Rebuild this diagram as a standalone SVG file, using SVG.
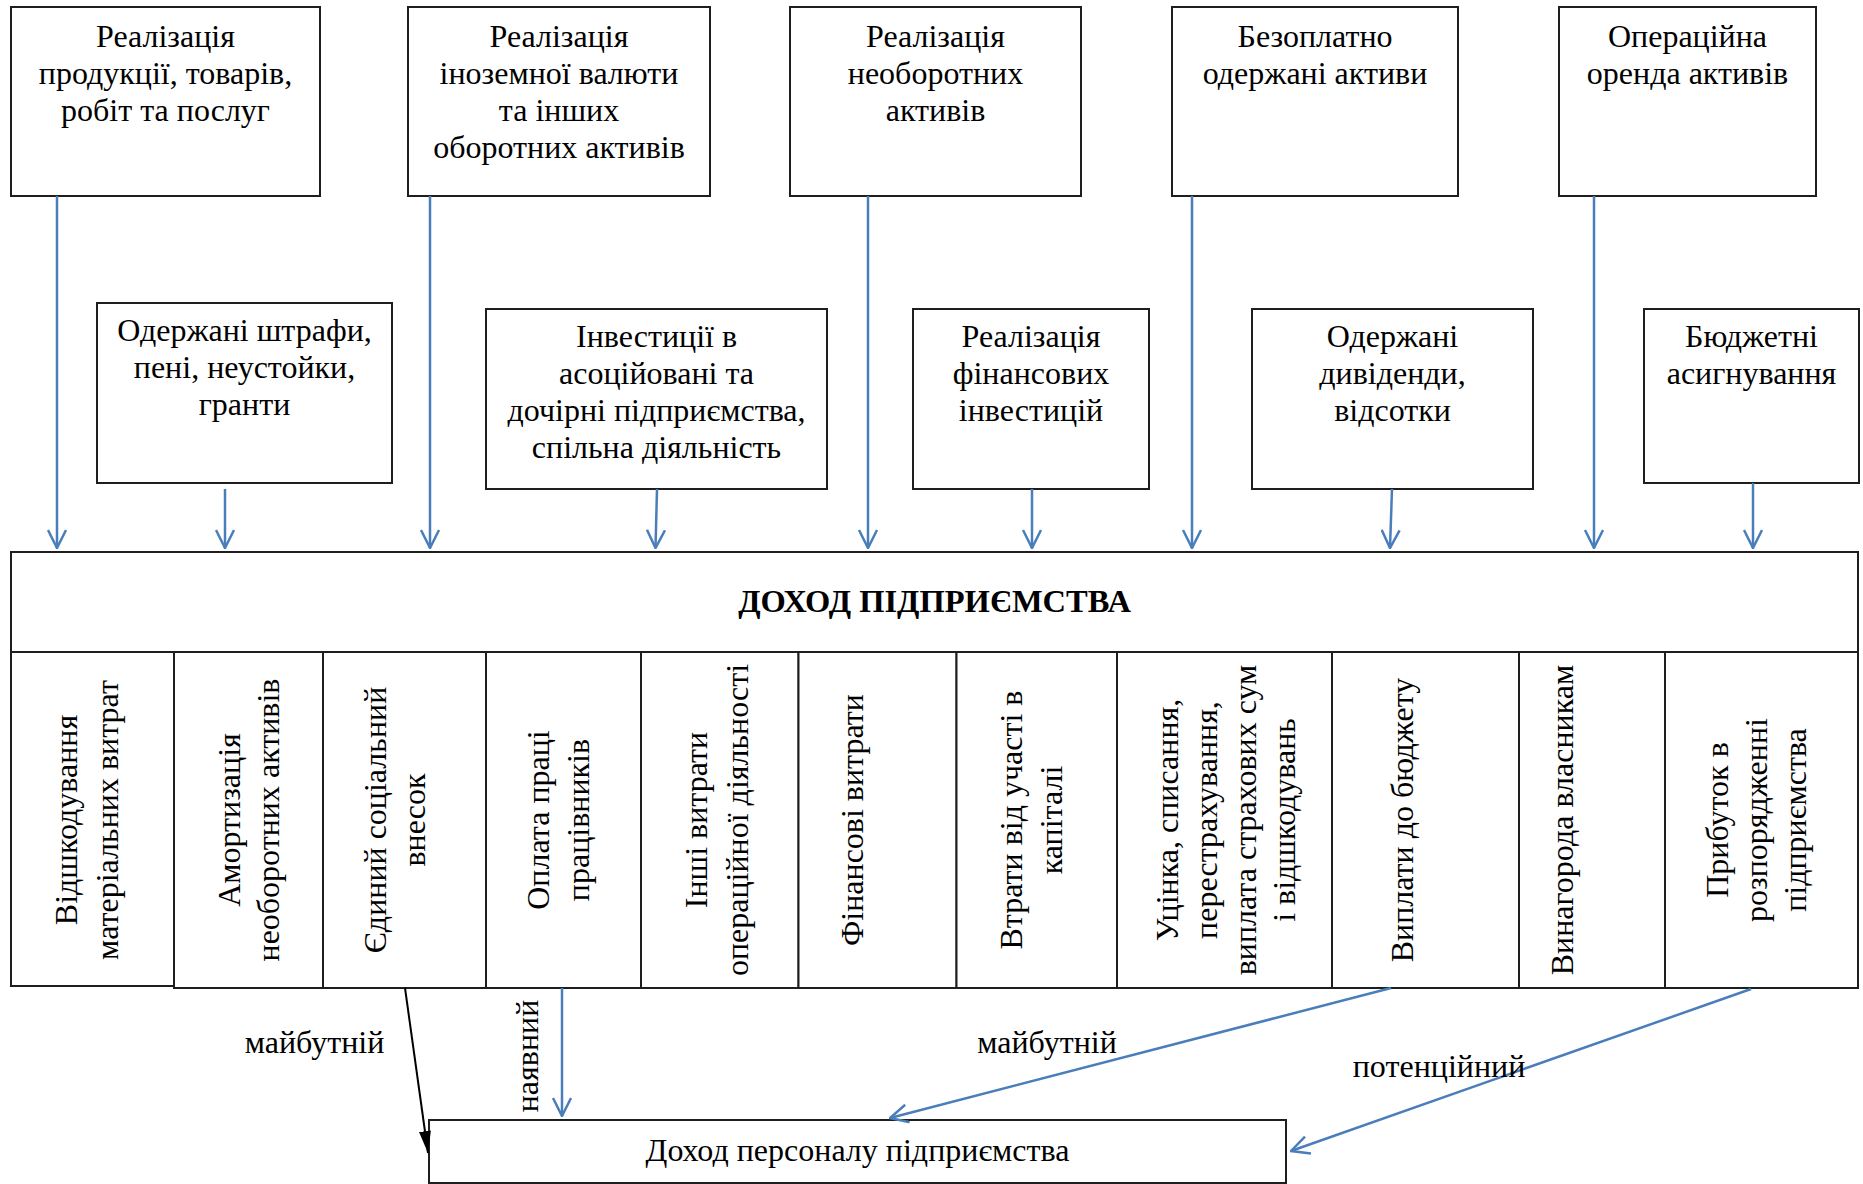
<svg xmlns="http://www.w3.org/2000/svg" width="1863" height="1184" viewBox="0 0 1863 1184">
<style>
.box{fill:#fff;stroke:#1e1e1e;stroke-width:2}
.t{font-family:"Liberation Serif","Times New Roman",serif;font-size:32px;fill:#000;text-anchor:middle}
.b{font-weight:bold;font-size:32.5px}
.lbl{font-family:"Liberation Serif","Times New Roman",serif;font-size:32px;fill:#000;text-anchor:middle}
.blue{stroke:#4A7EBB;stroke-width:2.5;fill:none;marker-end:url(#ab)}
.blk{stroke:#000;stroke-width:2;fill:none;marker-end:url(#ak)}
</style>
<defs>
<marker id="ab" viewBox="0 0 20 20" refX="19" refY="10" markerWidth="20" markerHeight="20" markerUnits="userSpaceOnUse" orient="auto"><path d="M1,1 L19,10 L1,19" fill="none" stroke="#4A7EBB" stroke-width="2.5"/></marker>
<marker id="ak" viewBox="0 0 22 12" refX="22" refY="6" markerWidth="22" markerHeight="12" markerUnits="userSpaceOnUse" orient="auto"><path d="M0,0 L22,6 L0,12 z" fill="#000"/></marker>
</defs>
<rect width="1863" height="1184" fill="#fff"/>

<g id="top1"><rect class="box" x="11" y="7" width="309" height="189"/><text class="t"><tspan x="165.5" y="47">Реалізація</tspan><tspan x="165.5" y="84">продукції, товарів,</tspan><tspan x="165.5" y="121">робіт та послуг</tspan></text></g>
<g id="top2"><rect class="box" x="408" y="7" width="302" height="189"/><text class="t"><tspan x="559" y="47">Реалізація</tspan><tspan x="559" y="84">іноземної валюти</tspan><tspan x="559" y="121">та інших</tspan><tspan x="559" y="158">оборотних активів</tspan></text></g>
<g id="top3"><rect class="box" x="790" y="7" width="291" height="189"/><text class="t"><tspan x="935.5" y="47">Реалізація</tspan><tspan x="935.5" y="84">необоротних</tspan><tspan x="935.5" y="121">активів</tspan></text></g>
<g id="top4"><rect class="box" x="1172" y="7" width="286" height="189"/><text class="t"><tspan x="1315" y="47">Безоплатно</tspan><tspan x="1315" y="84">одержані активи</tspan></text></g>
<g id="top5"><rect class="box" x="1559" y="7" width="257" height="189"/><text class="t"><tspan x="1687.5" y="47">Операційна</tspan><tspan x="1687.5" y="84">оренда активів</tspan></text></g>

<g id="mid1"><rect class="box" x="97" y="303" width="295" height="180"/><text class="t"><tspan x="244.5" y="341">Одержані штрафи,</tspan><tspan x="244.5" y="378">пені, неустойки,</tspan><tspan x="244.5" y="415">гранти</tspan></text></g>
<g id="mid2"><rect class="box" x="486" y="309" width="341" height="180"/><text class="t"><tspan x="656.5" y="347">Інвестиції в</tspan><tspan x="656.5" y="384">асоційовані та</tspan><tspan x="656.5" y="421">дочірні підприємства,</tspan><tspan x="656.5" y="458">спільна діяльність</tspan></text></g>
<g id="mid3"><rect class="box" x="913" y="309" width="236" height="180"/><text class="t"><tspan x="1031" y="347">Реалізація</tspan><tspan x="1031" y="384">фінансових</tspan><tspan x="1031" y="421">інвестицій</tspan></text></g>
<g id="mid4"><rect class="box" x="1252" y="309" width="281" height="180"/><text class="t"><tspan x="1392.5" y="347">Одержані</tspan><tspan x="1392.5" y="384">дивіденди,</tspan><tspan x="1392.5" y="421">відсотки</tspan></text></g>
<g id="mid5"><rect class="box" x="1644" y="309" width="215" height="174"/><text class="t"><tspan x="1751.5" y="347">Бюджетні</tspan><tspan x="1751.5" y="384">асигнування</tspan></text></g>

<g id="income"><rect class="box" x="11" y="552" width="1847" height="100"/><text class="t b" x="934.5" y="612">ДОХОД ПІДПРИЄМСТВА</text></g>

<g id="col1"><rect class="box" x="11" y="652" width="163" height="334"/><text class="t" transform="translate(0 820) rotate(-90)"><tspan x="0" y="77">Відшкодування</tspan><tspan x="0" y="118">матеріальних витрат</tspan></text></g>
<g id="col2"><rect class="box" x="174" y="652" width="149" height="336"/><text class="t" transform="translate(0 820) rotate(-90)"><tspan x="0" y="240">Амортизація</tspan><tspan x="0" y="279">необоротних активів</tspan></text></g>
<g id="col3"><rect class="box" x="323" y="652" width="163" height="336"/><text class="t" transform="translate(0 820) rotate(-90)"><tspan x="0" y="386">Єдиний соціальний</tspan><tspan x="0" y="425">внесок</tspan></text></g>
<g id="col4"><rect class="box" x="486" y="652" width="155" height="336"/><text class="t" transform="translate(0 820) rotate(-90)"><tspan x="0" y="549">Оплата праці</tspan><tspan x="0" y="589">працівників</tspan></text></g>
<g id="col5"><rect class="box" x="641" y="652" width="157.5" height="336"/><text class="t" transform="translate(0 820) rotate(-90)"><tspan x="0" y="707">Інші витрати</tspan><tspan x="0" y="748">операційної діяльності</tspan></text></g>
<g id="col6"><rect class="box" x="798.5" y="652" width="158" height="336"/><text class="t" transform="translate(0 820) rotate(-90)"><tspan x="0" y="863">Фінансові витрати</tspan></text></g>
<g id="col7"><rect class="box" x="956.5" y="652" width="160.5" height="336"/><text class="t" transform="translate(0 820) rotate(-90)"><tspan x="0" y="1022">Втрати від участі в</tspan><tspan x="0" y="1062">капіталі</tspan></text></g>
<g id="col8"><rect class="box" x="1117" y="652" width="215" height="336"/><text class="t" transform="translate(0 820) rotate(-90)"><tspan x="0" y="1178">Уцінка, списання,</tspan><tspan x="0" y="1217">перестрахування,</tspan><tspan x="0" y="1256">виплата страхових сум</tspan><tspan x="0" y="1295">і відшкодувань</tspan></text></g>
<g id="col9"><rect class="box" x="1332" y="652" width="187" height="336"/><text class="t" transform="translate(0 820) rotate(-90)"><tspan x="0" y="1413">Виплати до бюджету</tspan></text></g>
<g id="col10"><rect class="box" x="1519" y="652" width="146" height="336"/><text class="t" transform="translate(0 820) rotate(-90)"><tspan x="0" y="1573">Винагорода власникам</tspan></text></g>
<g id="col11"><rect class="box" x="1665" y="652" width="193" height="336"/><text class="t" transform="translate(0 820) rotate(-90)"><tspan x="0" y="1728">Прибуток в</tspan><tspan x="0" y="1767">розпорядженні</tspan><tspan x="0" y="1806">підприємства</tspan></text></g>

<g id="staff"><rect class="box" x="429" y="1120" width="857" height="63"/><text class="t" x="857.5" y="1161">Доход персоналу підприємства</text></g>

<g id="connectors">
<line class="blue" x1="57" y1="196" x2="57" y2="548"/>
<line class="blue" x1="225" y1="489" x2="225" y2="548"/>
<line class="blue" x1="430" y1="196" x2="430" y2="548"/>
<line class="blue" x1="657" y1="489" x2="655.5" y2="548"/>
<line class="blue" x1="868" y1="196" x2="868" y2="548"/>
<line class="blue" x1="1032" y1="489" x2="1032" y2="548"/>
<line class="blue" x1="1192" y1="196" x2="1192" y2="548"/>
<line class="blue" x1="1392" y1="489" x2="1390" y2="548"/>
<line class="blue" x1="1594" y1="196" x2="1594" y2="548"/>
<line class="blue" x1="1753" y1="483" x2="1753" y2="548"/>
<line class="blk" x1="405" y1="988" x2="428" y2="1153"/>
<line class="blue" x1="562" y1="988" x2="562" y2="1116"/>
<line class="blue" x1="1391" y1="988" x2="890" y2="1118"/>
<line class="blue" x1="1751" y1="989" x2="1291" y2="1151"/>
<text class="lbl" x="314.5" y="1053">майбутній</text>
<text class="lbl" transform="translate(0 1056) rotate(-90)" x="0" y="538">наявний</text>
<text class="lbl" x="1047" y="1053">майбутній</text>
<text class="lbl" x="1439" y="1077">потенційний</text>
</g>
</svg>
